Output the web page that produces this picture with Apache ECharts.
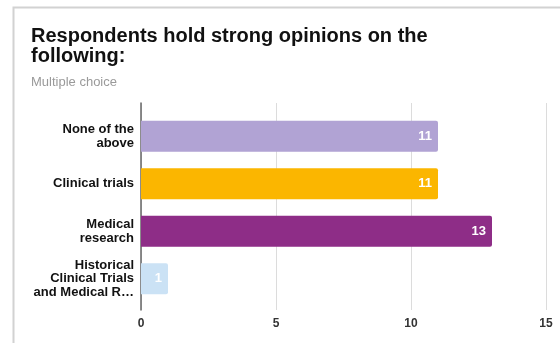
<!DOCTYPE html>
<html>
<head>
<meta charset="utf-8">
<script src="https://cdn.jsdelivr.net/npm/echarts@6/dist/echarts.min.js"></script>
<style>
  html, body { margin: 0; padding: 0; background: #ffffff; }
  #chart { width: 560px; height: 343px; }
</style>
</head>
<body>
<div id="chart"></div>
<script>
// Question responses (multiple choice)
const categories = [
  'None of the\nabove',
  'Clinical trials',
  'Medical\nresearch',
  'Historical\nClinical Trials\nand Medical R\u2026'
];
const counts = [11, 11, 13, 1];
const barColors = ['#b1a3d4', '#fbb600', '#8e2d87', '#cbe2f5'];
const xTicks = [0, 5, 10, 15];

const FONT = '"Liberation Sans", Arial, Helvetica, sans-serif';

const chart = echarts.init(document.getElementById('chart'), null, { renderer: 'canvas' });

const option = {
  animation: false,
  backgroundColor: '#ffffff',
  textStyle: { fontFamily: FONT },
  graphic: [
    {
      type: 'rect',
      shape: { x: 13.5, y: 7.5, width: 600, height: 400 },
      style: { fill: '#ffffff', stroke: '#d2d2d2', lineWidth: 2 },
      z: -10
    }
  ],
  title: [
    {
      text: 'Respondents hold strong opinions on the\nfollowing:',
      left: 31,
      top: 26,
      padding: 0,
      textStyle: {
        fontFamily: FONT,
        fontSize: 20,
        fontWeight: 'bold',
        lineHeight: 20,
        color: '#111111'
      }
    },
    {
      text: 'Multiple choice',
      left: 31,
      top: 76,
      padding: 0,
      textStyle: {
        fontFamily: FONT,
        fontSize: 13,
        fontWeight: 'normal',
        color: '#9a9a9a'
      }
    }
  ],
  grid: [
    // frame: baseline, gridlines and tick labels
    { left: 141, right: 14, top: 103, bottom: 33, containLabel: false },
    // bars
    { left: 141, right: 14, top: 112.5, bottom: 40.5, containLabel: false }
  ],
  xAxis: [
    {
      gridIndex: 0,
      type: 'value',
      min: xTicks[0],
      max: xTicks[xTicks.length - 1],
      interval: xTicks[1] - xTicks[0],
      axisLine: { show: false },
      axisTick: { show: false },
      splitLine: { show: true, lineStyle: { color: '#dcdcdc', width: 1 } },
      axisLabel: {
        margin: 8,
        fontFamily: FONT,
        fontSize: 12,
        fontWeight: 'bold',
        color: '#333333'
      }
    },
    {
      gridIndex: 1,
      type: 'value',
      min: xTicks[0],
      max: xTicks[xTicks.length - 1],
      show: false
    }
  ],
  yAxis: [
    {
      gridIndex: 0,
      type: 'category',
      data: [''],
      axisLine: { show: true, lineStyle: { color: '#666666', width: 1.5 } },
      axisTick: { show: false },
      axisLabel: { show: false },
      splitLine: { show: false }
    },
    {
      gridIndex: 1,
      type: 'category',
      inverse: true,
      data: categories,
      axisLine: { show: false },
      axisTick: { show: false },
      axisLabel: {
        margin: 7,
        fontFamily: FONT,
        fontSize: 13,
        fontWeight: 'bold',
        lineHeight: 13.5,
        color: '#111111',
        align: 'right'
      }
    }
  ],
  series: [
    {
      type: 'bar',
      xAxisIndex: 1,
      yAxisIndex: 1,
      barWidth: 31,
      data: counts.map((v, i) => ({
        value: v,
        itemStyle: { color: barColors[i], borderRadius: [0, 2, 2, 0] }
      })),
      label: {
        show: true,
        position: 'insideRight',
        distance: 6,
        fontFamily: FONT,
        fontSize: 13,
        fontWeight: 'bold',
        color: '#ffffff'
      },
      z: 3
    }
  ]
};

chart.setOption(option);
</script>
</body>
</html>
